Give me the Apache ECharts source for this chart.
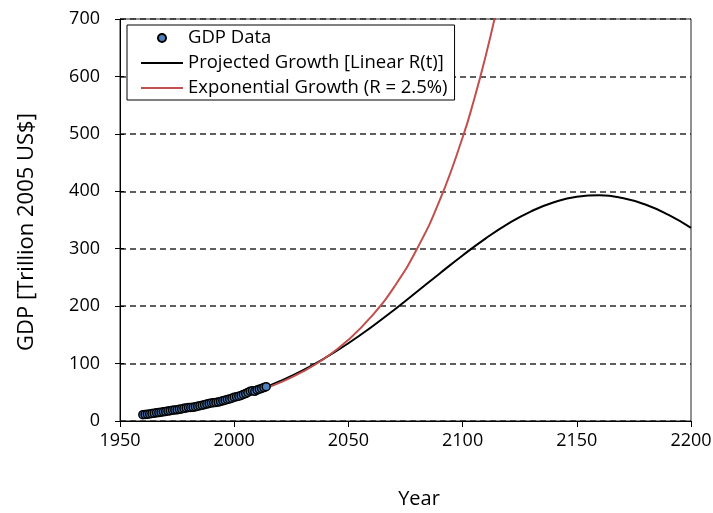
<!DOCTYPE html>
<html>
<head>
<meta charset="utf-8">
<script src="https://cdn.jsdelivr.net/npm/echarts@6/dist/echarts.min.js"></script>
<style>html,body{margin:0;padding:0;background:#fff}#c{width:713px;height:513px}</style>
</head>
<body>
<div id="c"></div>
<script>
// GDP data (trillion 2005 US$)
var gdpYears = [1960,1961,1962,1963,1964,1965,1966,1967,1968,1969,1970,1971,1972,1973,1974,1975,1976,1977,1978,1979,1980,1981,1982,1983,1984,1985,1986,1987,1988,1989,1990,1991,1992,1993,1994,1995,1996,1997,1998,1999,2000,2001,2002,2003,2004,2005,2006,2007,2008,2009,2010,2011,2012,2013,2014];
var gdpValues = [11.0,11.4,11.9,12.4,13.1,13.6,14.2,14.7,15.3,16.0,16.6,17.2,17.9,18.9,19.2,19.4,20.3,21.1,22.0,22.8,23.3,23.7,23.9,24.6,25.7,26.6,27.4,28.4,29.5,30.5,31.4,31.8,32.4,33.0,34.1,35.1,36.3,37.6,38.5,39.8,41.4,42.2,43.2,44.4,46.2,47.8,49.8,51.9,52.7,51.6,53.9,55.5,56.8,58.2,59.8];

// Projected growth, linear R(t)
var projYears = [2014,2020,2030,2040,2050,2060,2070,2080,2090,2100,2110,2120,2130,2140,2150,2160,2170,2180,2190,2200];
var projValues = [59.4,69.3,88.2,110.3,135.4,163.3,193.4,225.0,257.0,288.3,317.6,343.7,365.1,381.0,390.4,392.9,388.3,376.9,359.2,336.3];

// Exponential growth, R = 2.5%
var expYears = [2014,2020,2030,2040,2050,2060,2070,2080,2090,2100,2105,2110,2115];
var expValues = [57.5,66.8,85.8,110.1,141.4,181.6,233.2,299.4,384.4,493.6,559.3,633.8,718.3];

var xTicks = [1950,2000,2050,2100,2150,2200];
var yTicks = [0,100,200,300,400,500,600,700];

function pairs(xs, ys){ return xs.map(function(x,i){ return [x, ys[i]]; }); }

var FONT = 'Open Sans';
var hidden = {color:'rgba(0,0,0,0)', borderColor:'rgba(0,0,0,0)', borderWidth:0};
var chart = echarts.init(document.getElementById('c'), null, {renderer:'canvas'});
chart.setOption({
  animation:false,
  backgroundColor:'#fff',
  textStyle:{fontFamily:FONT, color:'#000'},
  grid:{left:120, right:22, top:19, bottom:92, outerBoundsMode:'none', containLabel:false,
        show:true, borderColor:'#222', borderWidth:1, backgroundColor:'transparent'},
  legend:{
    orient:'vertical', left:127, top:25,
    backgroundColor:'#fff', borderColor:'#000', borderWidth:1,
    padding:[3,7,2,13],
    itemWidth:42, itemHeight:8, itemGap:5,
    textStyle:{fontFamily:FONT, fontSize:18.5, color:'#000', lineHeight:20},
    data:[
      {name:'GDP Data'},
      {name:'Projected Growth [Linear R(t)]', itemStyle:hidden},
      {name:'Exponential Growth (R = 2.5%)', itemStyle:hidden}
    ]
  },
  xAxis:{
    type:'value', min:xTicks[0], max:xTicks[xTicks.length-1], interval:50,
    name:'Year', nameLocation:'middle', nameGap:68,
    nameTextStyle:{fontFamily:FONT, fontSize:20, color:'#000', padding:[0,0,0,27]},
    axisLine:{show:true, onZero:false, lineStyle:{color:'#000', width:1}},
    axisTick:{show:true, inside:false, length:6, lineStyle:{color:'#000'}},
    axisLabel:{fontFamily:FONT, fontSize:18, color:'#000', margin:11, formatter:function(v){ return String(v); }},
    splitLine:{show:false}
  },
  yAxis:[{
    type:'value', position:'left', min:yTicks[0], max:yTicks[yTicks.length-1], interval:100,
    name:'GDP [Trillion 2005 US$]', nameLocation:'middle', nameGap:82, nameRotate:90,
    nameTextStyle:{fontFamily:FONT, fontSize:22, color:'#000', padding:[0,24,0,0]},
    axisLine:{show:true, onZero:false, lineStyle:{color:'#000', width:1}},
    axisTick:{show:true, inside:false, length:5, lineStyle:{color:'#000'}},
    axisLabel:{fontFamily:FONT, fontSize:18, color:'#000', margin:20},
    splitLine:{show:true, lineStyle:{color:'#2a2a2a', width:1.5, type:[6,4]}}
  },{
    type:'value', position:'left', min:yTicks[0], max:yTicks[yTicks.length-1], interval:100,
    axisLine:{show:false}, axisLabel:{show:false}, splitLine:{show:false},
    axisTick:{show:true, inside:true, length:4, lineStyle:{color:'#000'}}
  }],
  series:[{
    name:'GDP Data', type:'scatter', yAxisIndex:0, z:5,
    symbol:'circle', symbolSize:8,
    itemStyle:{color:'#4F81BD', borderColor:'#000', borderWidth:1.5, opacity:1},
    data:pairs(gdpYears, gdpValues)
  },{
    name:'Projected Growth [Linear R(t)]', type:'line', yAxisIndex:0, z:3,
    smooth:true, symbol:'none', showSymbol:false,
    lineStyle:{color:'#000', width:2}, itemStyle:{color:'#000'},
    data:pairs(projYears, projValues)
  },{
    name:'Exponential Growth (R = 2.5%)', type:'line', yAxisIndex:0, z:4,
    smooth:true, symbol:'none', showSymbol:false, clip:true,
    lineStyle:{color:'#C0504D', width:2}, itemStyle:{color:'#C0504D'},
    data:pairs(expYears, expValues)
  }]
});
</script>
</body>
</html>
